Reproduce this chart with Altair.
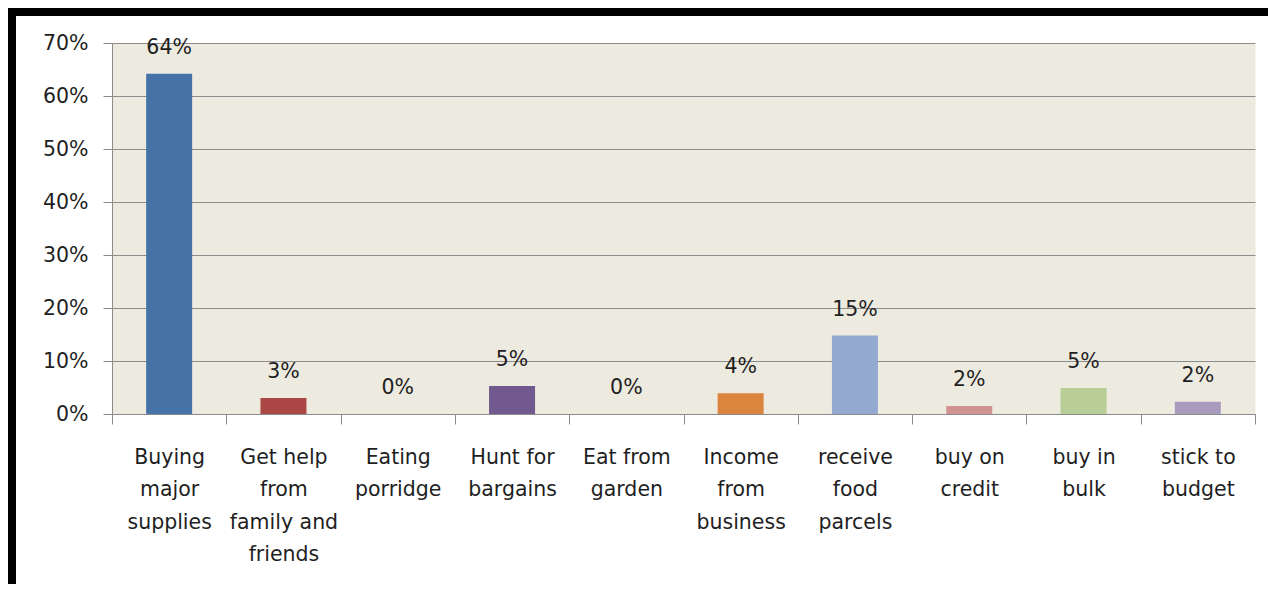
import altair as alt
import pandas as pd

categories = [
    "Buying major supplies", "Get help from family and friends", "Eating porridge",
    "Hunt for bargains", "Eat from garden", "Income from business",
    "receive food parcels", "buy on credit", "buy in bulk", "stick to budget",
]
label_lines = [
    ["Buying", "major", "supplies"],
    ["Get help", "from", "family and", "friends"],
    ["Eating", "porridge"],
    ["Hunt for", "bargains"],
    ["Eat from", "garden"],
    ["Income", "from", "business"],
    ["receive", "food", "parcels"],
    ["buy on", "credit"],
    ["buy in", "bulk"],
    ["stick to", "budget"],
]
values = [0.642, 0.030, 0.0, 0.053, 0.0, 0.039, 0.148, 0.015, 0.049, 0.023]
value_labels = ["64%", "3%", "0%", "5%", "0%", "4%", "15%", "2%", "5%", "2%"]
colors = ["#4572A7", "#AA4643", "#89A54E", "#71588F", "#4198AF",
          "#DB843D", "#93A9CF", "#D19392", "#B9CD96", "#A99BBD"]
y_ticks = [0, 0.1, 0.2, 0.3, 0.4, 0.5, 0.6, 0.7]

df = pd.DataFrame({
    "category": categories,
    "axis_label": ["|".join(l) for l in label_lines],
    "value": values,
    "text": value_labels,
})

W, H = 1143, 371
PAD_L, PAD_T = 104, 35
TOTAL_W, TOTAL_H = 1260, 576
FONT = "DejaVu Sans"
FS = 20.5
GRID = "#8c8c8c"
TXT = "#1f1f1f"

x_enc = alt.X(
    "axis_label:N", sort=None,
    scale=alt.Scale(paddingInner=0, paddingOuter=0),
    axis=alt.Axis(
        title=None,
        labelExpr="isValid(datum.value) ? split(datum.value, '|') : ''",
        labelAngle=0, tickBand="extent", tickSize=10, tickColor=GRID, domainColor=GRID,
        labelFont=FONT, labelFontSize=FS, labelColor=TXT, labelLineHeight=32.5,
        labelPadding=23, labelBaseline="top", grid=False, labelLimit=300,
    ),
)
y_enc = alt.Y(
    "value:Q",
    scale=alt.Scale(domain=[0, 0.7], nice=False),
    axis=alt.Axis(
        title=None, format=".0%", values=y_ticks, tickSize=9, tickColor=GRID,
        domainColor=GRID, gridColor=GRID, labelFont=FONT, labelFontSize=FS,
        labelColor=TXT, labelPadding=15,
    ),
)

base = alt.Chart(df)
bars = base.mark_bar(size=46).encode(
    x=x_enc, y=y_enc,
    color=alt.Color("category:N", scale=alt.Scale(domain=categories, range=colors), legend=None),
)
texts = base.mark_text(dy=-20, baseline="alphabetic", font=FONT, fontSize=FS, color=TXT).encode(
    x=alt.X("axis_label:N", sort=None), y="value:Q", text="text:N",
)

frame_df = pd.DataFrame({"k": [0]})
left_rule = alt.Chart(frame_df).mark_rule(color="black", strokeWidth=8).encode(
    x=alt.value(-100), y=alt.value(-35), y2=alt.value(TOTAL_H)
)
top_rule = alt.Chart(frame_df).mark_rule(color="black", strokeWidth=8).encode(
    x=alt.value(-104), x2=alt.value(TOTAL_W), y=alt.value(-31)
)

chart = alt.layer(bars, texts, left_rule, top_rule).properties(
    width=W, height=H, background="white",
    autosize=alt.AutoSizeParams(type="none"),
    padding={"left": PAD_L, "top": PAD_T,
             "right": TOTAL_W - PAD_L - W, "bottom": TOTAL_H - PAD_T - H},
).configure_view(fill="#EDEAE0", stroke="transparent")

chart.save("out.html", embed_options={"renderer": "svg", "actions": False})
